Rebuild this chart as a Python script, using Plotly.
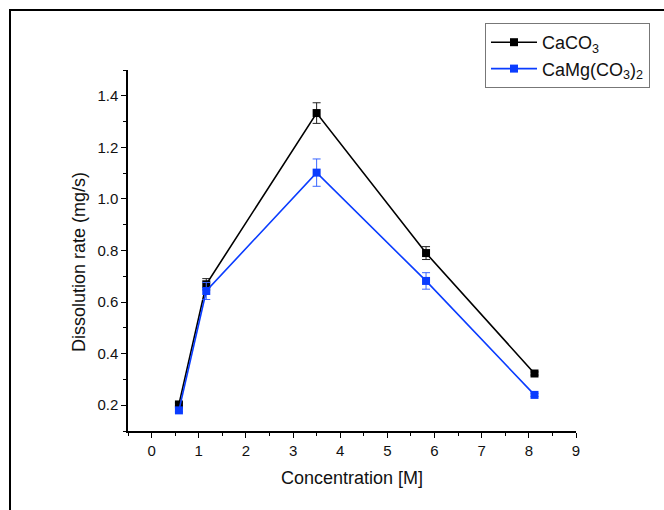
import plotly.graph_objects as go

# Dissolution rate vs. acid concentration for two carbonate minerals
concentration = [0.58, 1.16, 3.5, 5.82, 8.12]

caco3_rate = [0.203, 0.669, 1.333, 0.790, 0.323]
caco3_err = [0.006, 0.022, 0.040, 0.025, 0.006]

camg_rate = [0.180, 0.643, 1.102, 0.682, 0.240]
camg_err = [0.006, 0.033, 0.053, 0.032, 0.006]

x_ticks = list(range(0, 10))
y_ticks = [0.2, 0.4, 0.6, 0.8, 1.0, 1.2, 1.4]
y_tick_text = ["0.2", "0.4", "0.6", "0.8", "1.0", "1.2", "1.4"]

W, H = 664, 510
L, R, T, B = 128, 88, 70, 79
pw, ph = W - L - R, H - T - B

FONT = "Liberation Sans, Arial, sans-serif"
BLUE = "#0a3cff"

fig = go.Figure()
fig.add_trace(go.Scatter(
    x=concentration, y=caco3_rate, name="CaCO<sub>3</sub>",
    mode="lines+markers",
    line=dict(color="black", width=1.6),
    marker=dict(symbol="square", size=8, color="black"),
    error_y=dict(type="data", array=caco3_err, color="#222222", thickness=1, width=4),
))
fig.add_trace(go.Scatter(
    x=concentration, y=camg_rate, name="CaMg(CO<sub>3</sub>)<sub>2</sub>",
    mode="lines+markers",
    line=dict(color=BLUE, width=1.6),
    marker=dict(symbol="square", size=8, color=BLUE),
    error_y=dict(type="data", array=camg_err, color="#3a66ff", thickness=1, width=4),
))

axis_common = dict(
    showgrid=False, zeroline=False, showline=True, linecolor="black", linewidth=1.5,
    ticks="outside", ticklen=5, tickwidth=1.2, tickcolor="black",
    tickfont=dict(family=FONT, size=15, color="#111111"),
    mirror=False,
)

fig.update_xaxes(
    range=[-0.5, 9], tickvals=x_ticks,
    minor=dict(dtick=0.5, tick0=-0.5, ticklen=3, tickwidth=1.2, tickcolor="black", ticks="outside"),
    **axis_common,
)
fig.update_yaxes(
    range=[0.1, 1.5], tickvals=y_ticks, ticktext=y_tick_text,
    minor=dict(dtick=0.1, tick0=0.1, ticklen=3, tickwidth=1.2, tickcolor="black", ticks="outside"),
    **axis_common,
)

def px_x(p):
    return (p - L) / pw

def px_y(p):
    return (H - B - p) / ph

fig.add_annotation(
    text="Concentration [M]", xref="paper", yref="paper",
    x=px_x(352), y=px_y(478), xanchor="center", yanchor="middle",
    showarrow=False, font=dict(family=FONT, size=18, color="#111111"),
)
fig.add_annotation(
    text="Dissolution rate (mg/s)", xref="paper", yref="paper",
    x=px_x(79), y=px_y(262), xanchor="center", yanchor="middle", textangle=-90,
    showarrow=False, font=dict(family=FONT, size=18, color="#111111"),
)

# Outer frame around the figure
fig.add_shape(
    type="rect", xref="paper", yref="paper",
    x0=px_x(10), x1=px_x(700), y0=px_y(560), y1=px_y(10),
    line=dict(color="black", width=2), fillcolor="rgba(0,0,0,0)", layer="below",
)

fig.update_layout(
    width=W, height=H,
    margin=dict(l=L, r=R, t=T, b=B),
    paper_bgcolor="white", plot_bgcolor="white",
    showlegend=True,
    legend=dict(
        x=px_x(485), y=px_y(23), xanchor="left", yanchor="top",
        bgcolor="white", bordercolor="#777777", borderwidth=1,
        font=dict(family=FONT, size=18, color="#111111"),
        itemwidth=46, tracegroupgap=0,
    ),
)

fig.write_html("out.html")
